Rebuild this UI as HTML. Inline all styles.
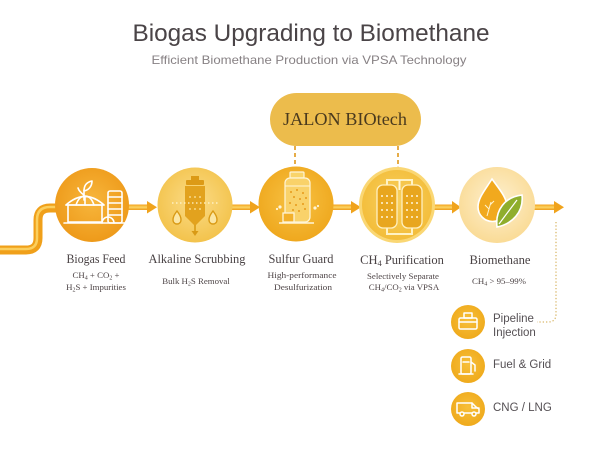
<!DOCTYPE html>
<html>
<head>
<meta charset="utf-8">
<style>
html,body{margin:0;padding:0;background:#fff;}
svg{display:block;}
.serif{font-family:"Liberation Serif",serif;}
.sans{font-family:"Liberation Sans",sans-serif;}
</style>
</head>
<body>
<svg width="603" height="449" viewBox="0 0 603 449" xmlns="http://www.w3.org/2000/svg">
<defs>
  <radialGradient id="g1" cx="50%" cy="45%" r="55%">
    <stop offset="0" stop-color="#f7b63c"/><stop offset="1" stop-color="#ee9a1a"/>
  </radialGradient>
  <radialGradient id="g2" cx="50%" cy="45%" r="55%">
    <stop offset="0" stop-color="#fbdc88"/><stop offset="1" stop-color="#f3c34c"/>
  </radialGradient>
  <radialGradient id="g3" cx="50%" cy="45%" r="55%">
    <stop offset="0" stop-color="#f7c244"/><stop offset="1" stop-color="#efa81e"/>
  </radialGradient>
  <radialGradient id="g4" cx="50%" cy="45%" r="55%">
    <stop offset="0" stop-color="#f8d060"/><stop offset="1" stop-color="#f3bd3a"/>
  </radialGradient>
  <radialGradient id="g5" cx="50%" cy="45%" r="55%">
    <stop offset="0" stop-color="#fdf0d0"/><stop offset="1" stop-color="#fadb96"/>
  </radialGradient>
  <radialGradient id="gs" cx="50%" cy="45%" r="55%">
    <stop offset="0" stop-color="#f7bf3a"/><stop offset="1" stop-color="#efaa1c"/>
  </radialGradient>
  <linearGradient id="ga" x1="0" y1="0" x2="0" y2="1">
    <stop offset="0" stop-color="#f2a01a"/><stop offset="0.5" stop-color="#fcd463"/><stop offset="1" stop-color="#ee9c18"/>
  </linearGradient>
</defs>

<!-- Title -->
<text x="311" y="41" text-anchor="middle" class="sans" font-size="24" fill="#4a4447" textLength="357" lengthAdjust="spacingAndGlyphs">Biogas Upgrading to Biomethane</text>
<text x="309" y="64" text-anchor="middle" class="sans" font-size="12" fill="#878184" textLength="315" lengthAdjust="spacingAndGlyphs">Efficient Biomethane Production via VPSA Technology</text>

<!-- Pill -->
<rect x="270" y="93" width="151" height="53" rx="26.5" fill="#ecbc4c"/>
<text x="345" y="125" text-anchor="middle" class="serif" font-size="18" fill="#4a3a1e" textLength="124" lengthAdjust="spacingAndGlyphs">JALON BIOtech</text>

<!-- Dashed connectors -->
<line x1="295" y1="146" x2="295" y2="167" stroke="#e3a434" stroke-width="1.8" stroke-dasharray="4,3"/>
<line x1="398" y1="146" x2="398" y2="168" stroke="#e3a434" stroke-width="1.8" stroke-dasharray="4,3"/>
<path d="M398,166 L395,173 L401,173 Z" fill="#d99a20"/>

<!-- Left pipe -->
<path d="M0,250 L26,250 Q38,250 38,238 L38,220 Q38,208 50,208 L60,208" fill="none" stroke="#f0a01a" stroke-width="9"/>
<path d="M0,249 L26,249 Q37,249 37,238 L37,220 Q37,207 50,207 L60,207" fill="none" stroke="#fbcf5e" stroke-width="2.5"/>

<!-- Arrows -->
<g>
  <rect x="128" y="204.5" width="21" height="5.5" fill="url(#ga)"/>
  <path d="M147,201 L157,207.25 L147,213.5 Z" fill="#f0a31c"/>
  <rect x="231" y="204.5" width="20" height="5.5" fill="url(#ga)"/>
  <path d="M250,201 L260,207.25 L250,213.5 Z" fill="#f0a31c"/>
  <rect x="332" y="204.5" width="20" height="5.5" fill="url(#ga)"/>
  <path d="M351,201 L361,207.25 L351,213.5 Z" fill="#f0a31c"/>
  <rect x="434" y="204.5" width="19" height="5.5" fill="url(#ga)"/>
  <path d="M452,201 L461,207.25 L452,213.5 Z" fill="#f0a31c"/>
  <rect x="534" y="204.5" width="21" height="5.5" fill="url(#ga)"/>
  <path d="M554,201 L564,207.25 L554,213.5 Z" fill="#f0a31c"/>
</g>

<!-- Circles -->
<circle cx="92" cy="205" r="37" fill="url(#g1)"/>
<circle cx="195" cy="205" r="37.5" fill="url(#g2)"/>
<circle cx="296" cy="204" r="37.5" fill="url(#g3)"/>
<circle cx="397" cy="205" r="38" fill="#fad774"/>
<circle cx="397" cy="205" r="35" fill="url(#g4)"/>
<circle cx="497" cy="205" r="38" fill="url(#g5)"/>

<!-- Icon 1: digester -->
<g fill="none" stroke="#fff" stroke-width="1.6" stroke-linejoin="round" stroke-linecap="round">
  <path d="M84,200 L84,190"/>
  <path d="M84,191 C84,185 87,182 92,181 C92,186 89,190 84,191 Z"/>
  <path d="M84,195 C81,193 79,191 78,188"/>
  <path d="M66,205 Q85,188 104,205"/>
  <path d="M66,205 L104,205"/>
  <path d="M76,205 Q79,196 85,196 M94,205 Q91,196 85,196 M85,196 L85,205"/>
  <rect x="68" y="205" width="34" height="17"/>
  <rect x="108" y="191" width="14" height="32" rx="2"/>
  <path d="M108,197 L122,197 M108,203 L122,203 M108,209 L122,209 M108,215 L122,215"/>
  <path d="M102,223 A6,6 0 0 1 114,223"/>
  <path d="M64,223 L126,223"/>
</g>

<!-- Icon 2: alkaline scrubber -->
<g>
  <rect x="191" y="176" width="8" height="4" fill="#dc9a16"/>
  <rect x="186" y="180" width="18" height="5" rx="1" fill="#dc9a16"/>
  <path d="M185,186 L205,186 L205,216 L195,226 L185,216 Z" fill="#e2a21e"/>
  <line x1="172" y1="203" x2="218" y2="203" stroke="#fff6d4" stroke-width="1.2" stroke-dasharray="1.5,2.5"/>
  <g fill="#fde9a8">
    <circle cx="190" cy="197" r="0.9"/><circle cx="195" cy="197" r="0.9"/><circle cx="200" cy="197" r="0.9"/>
    <circle cx="190" cy="209" r="0.9"/><circle cx="195" cy="209" r="0.9"/><circle cx="200" cy="209" r="0.9"/>
  </g>
  <path d="M177,211 C180,215 181,217 181,220 A4,4 0 0 1 173,220 C173,217 174,215 177,211 Z" fill="#fbe6a4" stroke="#d99a15" stroke-width="1.4"/>
  <path d="M213,211 C216,215 217,217 217,220 A4,4 0 0 1 209,220 C209,217 210,215 213,211 Z" fill="#fbe6a4" stroke="#d99a15" stroke-width="1.4"/>
  <line x1="195" y1="225" x2="195" y2="232" stroke="#d99a15" stroke-width="1.6"/>
  <path d="M191.5,231 L195,236 L198.5,231 Z" fill="#d99a15"/>
</g>

<!-- Icon 3: sulfur guard -->
<g>
  <rect x="290" y="172" width="14" height="6" rx="1" fill="#f9d46a" stroke="#fff5d8" stroke-width="1.2"/>
  <rect x="285" y="178" width="25" height="44" rx="5" fill="#f9d26a" stroke="#fff5d8" stroke-width="1.2"/>
  <line x1="285" y1="186" x2="310" y2="186" stroke="#fff5d8" stroke-width="1"/>
  <g fill="#e79a1a">
    <circle cx="291" cy="192" r="1"/><circle cx="297" cy="190" r="1"/><circle cx="303" cy="193" r="1"/>
    <circle cx="294" cy="197" r="1"/><circle cx="300" cy="199" r="1"/><circle cx="306" cy="198" r="1"/>
    <circle cx="290" cy="203" r="1"/><circle cx="296" cy="205" r="1"/><circle cx="303" cy="204" r="1"/>
    <circle cx="293" cy="210" r="1"/><circle cx="299" cy="211" r="1"/><circle cx="305" cy="209" r="1"/>
  </g>
  <rect x="283" y="213" width="11" height="9" fill="#f3b02a" stroke="#fff5d8" stroke-width="1.3"/>
  <line x1="279" y1="223" x2="314" y2="223" stroke="#fff5d8" stroke-width="1.4"/>
  <circle cx="280" cy="207" r="1.6" fill="#fff5d8"/><circle cx="277" cy="209" r="1.1" fill="#fff5d8"/>
  <circle cx="315" cy="208" r="1.6" fill="#fff5d8"/><circle cx="318" cy="206" r="1.1" fill="#fff5d8"/>
</g>

<!-- Icon 4: PSA vessels -->
<g>
  <path d="M387,185 L387,180 L412,180 L412,185" fill="none" stroke="#fff2c4" stroke-width="2"/>
  <path d="M387,228 L387,234 L412,234 L412,228" fill="none" stroke="#fff2c4" stroke-width="2"/>
  <line x1="399.5" y1="180" x2="399.5" y2="190" stroke="#fff8dc" stroke-width="2"/>
  <rect x="377" y="185" width="20" height="43" rx="6" fill="#e8a61e" stroke="#fff0c0" stroke-width="1.3"/>
  <rect x="402" y="185" width="20" height="43" rx="6" fill="#e8a61e" stroke="#fff0c0" stroke-width="1.3"/>
  <g fill="#fff6dc">
    <circle cx="382" cy="196" r="1"/><circle cx="387" cy="196" r="1"/><circle cx="392" cy="196" r="1"/>
    <circle cx="382" cy="203" r="1"/><circle cx="387" cy="203" r="1"/><circle cx="392" cy="203" r="1"/>
    <circle cx="382" cy="210" r="1"/><circle cx="387" cy="210" r="1"/><circle cx="392" cy="210" r="1"/>
    <circle cx="382" cy="217" r="1"/><circle cx="387" cy="217" r="1"/><circle cx="392" cy="217" r="1"/>
    <circle cx="407" cy="196" r="1"/><circle cx="412" cy="196" r="1"/><circle cx="417" cy="196" r="1"/>
    <circle cx="407" cy="203" r="1"/><circle cx="412" cy="203" r="1"/><circle cx="417" cy="203" r="1"/>
    <circle cx="407" cy="210" r="1"/><circle cx="412" cy="210" r="1"/><circle cx="417" cy="210" r="1"/>
    <circle cx="407" cy="217" r="1"/><circle cx="412" cy="217" r="1"/><circle cx="417" cy="217" r="1"/>
  </g>
</g>

<!-- Icon 5: drop + leaf -->
<g>
  <path d="M492,179 C500,190 507,198 507,207 A14.5,14.5 0 0 1 478,207 C478,198 485,190 492,179 Z" fill="#f1a91e" stroke="#fff" stroke-width="1.6"/>
  <path d="M487,216 L491,202 M489,209 L485,205 M490,205 L494,201" fill="none" stroke="#fff3cc" stroke-width="1"/>
  <path d="M497,227 C495,210 505,197 522,195 C524,212 512,224 497,227 Z" fill="#8fae2c" stroke="#fff" stroke-width="1.6"/>
  <path d="M499,224 L517,200" fill="none" stroke="#fff" stroke-width="1.2"/>
</g>

<!-- Main labels -->
<g class="serif" font-size="12.5" fill="#4a4345" text-anchor="middle">
  <text x="96" y="263" textLength="59" lengthAdjust="spacingAndGlyphs">Biogas Feed</text>
  <text x="197" y="263" textLength="97" lengthAdjust="spacingAndGlyphs">Alkaline Scrubbing</text>
  <text x="301" y="263" textLength="65" lengthAdjust="spacingAndGlyphs">Sulfur Guard</text>
  <text x="402" y="264">CH<tspan font-size="8.5" dy="2">4</tspan><tspan dy="-2"> Purification</tspan></text>
  <text x="500" y="264" textLength="61" lengthAdjust="spacingAndGlyphs">Biomethane</text>
</g>

<!-- Sub labels -->
<g class="serif" font-size="8.8" fill="#4d4446" text-anchor="middle">
  <text x="96" y="278">CH<tspan font-size="6" dy="1.5">4</tspan><tspan dy="-1.5"> + CO</tspan><tspan font-size="6" dy="1.5">2</tspan><tspan dy="-1.5"> +</tspan></text>
  <text x="96" y="290">H<tspan font-size="6" dy="1.5">2</tspan><tspan dy="-1.5">S + Impurities</tspan></text>
  <text x="196" y="284">Bulk H<tspan font-size="6" dy="1.5">2</tspan><tspan dy="-1.5">S Removal</tspan></text>
  <text x="302" y="278" textLength="69" lengthAdjust="spacingAndGlyphs">High-performance</text>
  <text x="303" y="290" textLength="58" lengthAdjust="spacingAndGlyphs">Desulfurization</text>
  <text x="403" y="279" textLength="72" lengthAdjust="spacingAndGlyphs">Selectively Separate</text>
  <text x="404" y="290">CH<tspan font-size="6" dy="1.5">4</tspan><tspan dy="-1.5">/CO</tspan><tspan font-size="6" dy="1.5">2</tspan><tspan dy="-1.5"> via VPSA</tspan></text>
  <text x="499" y="284">CH<tspan font-size="6" dy="1.5">4</tspan><tspan dy="-1.5"> &gt; 95–99%</tspan></text>
</g>

<!-- Dotted branch -->
<path d="M556,222 L556,314 Q556,322 548,322 L537,322" fill="none" stroke="#d9b86c" stroke-width="1.3" stroke-dasharray="1.3,2"/>

<!-- Small outputs -->
<circle cx="468" cy="322" r="17" fill="url(#gs)"/>
<circle cx="468" cy="366" r="17" fill="url(#gs)"/>
<circle cx="468" cy="409" r="17" fill="url(#gs)"/>

<g fill="none" stroke="#fff" stroke-width="1.5" stroke-linejoin="round" stroke-linecap="round">
  <rect x="464" y="313" width="8" height="5"/>
  <rect x="459" y="318" width="18" height="11" rx="1.5"/>
  <path d="M459,322 L477,322"/>
  <rect x="461" y="357" width="10" height="17" rx="1.5"/>
  <path d="M463,362 L469,362"/>
  <path d="M471,362 L475,365 L475,371 M459,374 L473,374"/>
  <path d="M457,413 L457,403 L472,403 L476,407 L479,409 L479,413 Z"/>
  <path d="M472,403 L472,408 L479,408"/>
  <circle cx="462" cy="414" r="2" fill="#f2b428"/>
  <circle cx="474" cy="414" r="2" fill="#f2b428"/>
</g>

<g class="sans" font-size="11.5" fill="#555054">
  <text x="493" y="322">Pipeline</text>
  <text x="493" y="336">Injection</text>
  <text x="493" y="368">Fuel &amp; Grid</text>
  <text x="493" y="411">CNG / LNG</text>
</g>
</svg>
</body>
</html>
